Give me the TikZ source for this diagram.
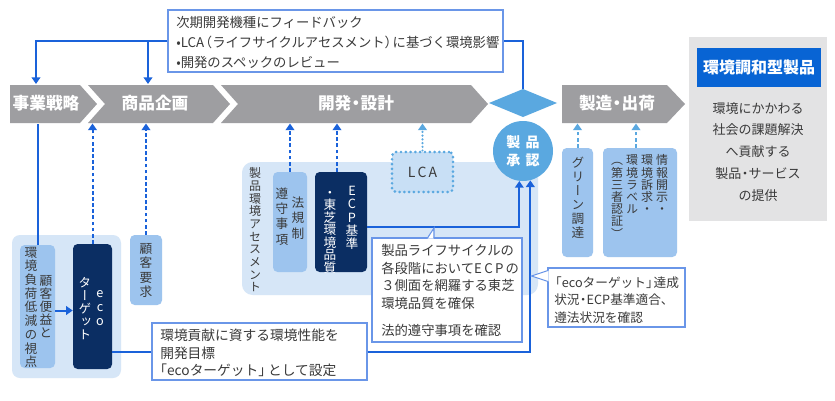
\documentclass[tikz,border=0pt]{standalone}
\usepackage{fontspec}
\setmainfont{Noto Sans CJK JP}
\newfontfamily\tatefont[RawFeature=+vert]{Noto Sans CJK JP}
\usetikzlibrary{arrows.meta,fit}

\definecolor{procgray}{HTML}{9E9EA1}
\definecolor{linkblue}{HTML}{1A62DA}
\definecolor{paleblue}{HTML}{D6E6F7}
\definecolor{midblue}{HTML}{9DC4EE}
\definecolor{navy}{HTML}{0B2E63}
\definecolor{apblue}{HTML}{5AA8E0}
\definecolor{headblue}{HTML}{0864D4}
\definecolor{edgeblue}{HTML}{6A96E8}
\definecolor{txtgray}{HTML}{3A3A3A}
\definecolor{panelgray}{HTML}{E3E3E4}
\definecolor{lcafill}{HTML}{C8DFF5}

% vertical (tate) text: one glyph per cell, cells of a fixed pitch
\newlength\tatepitch
\newcommand\tatecell[1]{\vbox to\tatepitch{\vss\hbox to1.1em{\hss\smash{#1}\hss}\kern\dimexpr.5\tatepitch-.38em\relax}}
\def\tateloop#1{\ifx\relax#1\else\tatecell{#1}\expandafter\tateloop\fi}
\newcommand\tate[2]{\setlength\tatepitch{#1}\vbox{\offinterlineskip\tatefont\tateloop#2\relax}}
\newcommand\emtop{\rule{0pt}{.88em}}
% narrow middle dot
\newcommand\ndot{\kern-.22em・\kern-.22em}

\tikzset{
  conn/.style={draw=linkblue, line width=1.5pt},
  tip/.style={-{Triangle[width=6.5pt,length=5pt]}},
  dashtip/.style={draw=linkblue, line width=1.5pt, dash pattern=on 2.8pt off 1.8pt, -{Triangle[width=6.5pt,length=5pt]}},
  litetip/.style={draw=apblue, line width=1.5pt, dash pattern=on 2.8pt off 1.8pt, -{Triangle[width=6.5pt,length=5pt]}},
  dottip/.style={draw=apblue, line width=1.8pt, dash pattern=on 0pt off 2.8pt, line cap=round, -{Triangle[width=6.5pt,length=5pt]}},
  proc/.style={fill=procgray},
  proclabel/.style={text=white, font=\fontsize{12.5}{14}\selectfont\bfseries, inner sep=0, text height=.88em, text depth=.12em},
  fitbox/.style={inner sep=0pt},
  notebox/.style={fitbox, draw=edgeblue, line width=0.8pt, fill=white},
  panel/.style={fitbox, fill=paleblue, rounded corners=6pt},
  softbox/.style={fitbox, fill=midblue, rounded corners=3.5pt},
  darkbox/.style={fitbox, fill=navy, rounded corners=3.5pt},
  vlabel/.style={inner sep=0, anchor=north, text=txtgray, font=\fontsize{9.5}{10}\selectfont},
  vwhite/.style={vlabel, text=white},
  notetext/.style={inner sep=0, anchor=north west, align=left, text=txtgray},
  tail/.style={draw=edgeblue, line width=0.8pt},
}

\begin{document}
\begin{tikzpicture}[x=0.75pt,y=-0.75pt]
\useasboundingbox (0,0) rectangle (835,400);
\fill[white] (0,0) rectangle (835,400);

% process chevrons
\fill[proc] (10,85) -- (80,85) -- (97,104) -- (80,123) -- (10,123) -- cycle;
\fill[proc] (88,85) -- (213,85) -- (230,104) -- (213,123) -- (88,123) -- (105,104) -- cycle;
\fill[proc] (221,85) -- (471,85) -- (488,104) -- (471,123) -- (221,123) -- (238,104) -- cycle;
\fill[proc] (562,85) -- (667,85) -- (685,104) -- (667,123) -- (562,123) -- cycle;
\node[proclabel] (p1) at (46,104) {事業戦略};
\node[proclabel] (p2) at (155,104) {商品企画};
\node[proclabel] (p3) at (356,104) {開発\ndot 設計};
\node[proclabel] (p4) at (617,104) {製造\ndot 出荷};
\coordinate (bartop) at (0,85);
\coordinate (barbot) at (0,123.5);

% feedback note
\node[notebox, fit={(168,10) (503,72)}] (fb) {};
\node[notetext, font=\fontsize{10}{15}\selectfont] (fbt) at (176,15.3)
  {\emtop 次期開発機種にフィードバック\\•LCA\kern-.4em（ライフサイクルアセスメント）\kern-.4em に基づく環境影響\\•開発のスペックのレビュー};

% result panel
\node[fitbox, fill=panelgray, fit={(689,37) (827,221)}] (goal) {};
\node[fitbox, fill=headblue, fit={(697,48) (821,87)}] (goalhead) {};
\node[text=white, font=\fontsize{12}{14}\selectfont\bfseries, inner sep=0] (goalt) at (goalhead.center) {環境調和型製品};
\node[inner sep=0, anchor=north, align=center, text=txtgray, font=\fontsize{9.75}{16.3}\selectfont] (goald) at (758,101.5)
  {\emtop 環境にかかわる\\社会の課題解決\\へ貢献する\\製品\ndot サービス\\の提供};

% planning group
\node[panel, fit={(12,235) (121,378)}] (leftpanel) {};
\node[softbox, fit={(20,245) (55,368)}] (view) {};
\node[darkbox, fit={(73,244) (112,369)}] (eco) {};
\node[softbox, fit={(130,235) (162,305)}] (need) {};
\node[vlabel] (viewa) at (31,245.1) {\tate{10.3pt}{環境負荷低減の視点}};
\node[vlabel] (viewb) at (46,273.4) {\tate{9.9pt}{顧客便益と}};
\node[vwhite] (ecoa) at (100,285) {\tate{10.5pt}{eco}};
\node[vwhite] (ecob) at (85,275.5) {\tate{9.75pt}{ターゲット}};
\node[vlabel] (needt) at (146,240.75) {\tate{10.9pt}{顧客要求}};

% assessment group
\node[panel, rounded corners=8pt, fit={(242,162) (538,295)}] (assess) {};
\node[vlabel, font=\fontsize{9}{10}\selectfont] (assesst) at (255,166.6) {\tate{9.5pt}{製品環境アセスメント}};
\node[softbox, fit={(273,172) (307,272)}] (law) {};
\node[darkbox, fit={(315,172) (367,272)}] (ecp) {};
\node[vlabel] (lawa) at (298,194.25) {\tate{11.6pt}{法規制}};
\node[vlabel] (lawb) at (282,185.3) {\tate{11.5pt}{遵守事項}};
\node[vwhite] (ecpa) at (352,183.25) {\tate{10.1pt}{ECP基準}};
\node[vwhite] (ecpb) at (330,185.75) {\tate{9.4pt}{・東芝環境品質}};
\node[fitbox, fill=lcafill, draw=apblue, line width=2.2pt, dash pattern=on 0pt off 3.6pt, line cap=round, rounded corners=3pt, fit={(392,152) (453,192)}] (lca) {};
\node[inner sep=0, text=txtgray, font=\fontsize{10.5}{12}\selectfont] (lcat) at (lca.center) {L\kern1.5pt C\kern1.5pt A};

% approval gate
\fill[apblue] (489,103) -- (523,89) -- (557,103) -- (523,117) -- cycle;
\coordinate (diatop) at (523,89);
\node[circle, fill=apblue, minimum size=45pt, inner sep=0, text=white, align=center, font=\fontsize{10.5}{13.5}\selectfont\bfseries] (appr) at (523,151) {製\hspace{4pt}品\\承\hspace{4pt}認};

% production group
\node[softbox, fit={(562,148) (593,257)}] (green) {};
\node[softbox, fit={(603,148) (677,257)}] (info) {};
\node[vlabel] (greent) at (578,155) {\tate{10.5pt}{グリーン調達}};
\node[vlabel, font=\fontsize{9}{10}\selectfont] (infoa) at (662,153.9) {\tate{9.15pt}{情報開示・}};
\node[vlabel, font=\fontsize{9}{10}\selectfont] (infob) at (647,153.9) {\tate{9.15pt}{環境訴求・}};
\node[vlabel, font=\fontsize{9}{10}\selectfont] (infoc) at (632,153.9) {\tate{9.15pt}{環境ラベル}};
\node[vlabel, font=\fontsize{9}{10}\selectfont] (infod) at (617,153.9) {\tate{9.15pt}{（第三者認証）}};

% target note
\node[notebox, fit={(152,323) (367,380)}] (goalnote) {};
\node[notetext, font=\fontsize{10.3}{13.1}\selectfont] (goalnotet) at (160,328.2)
  {\emtop 環境貢献に資する環境性能を\\開発目標\\\kern-.5em「ecoターゲット」\kern-.3em として設定};

% connectors
\draw[conn] (diatop) |- (fb.east);
\coordinate (s1top) at (36,84);
\coordinate (s2top) at (148,84);
\draw[conn,tip] (fb.west) -| (s1top);
\draw[conn,tip] (fb.west -| s2top) -- (s2top);
\draw[conn] (view.north) -- (view.north |- barbot);
\draw[conn,tip] ([yshift=-3pt]view.east) -- ([yshift=-3pt]eco.west);
\draw[dashtip] (eco.north) -- (eco.north |- barbot);
\draw[dashtip] (need.north) -- (need.north |- barbot);
\draw[dashtip] (law.north) -- (law.north |- barbot);
\draw[dashtip] ([xshift=-3pt]ecp.north) -- ([xshift=-3pt]ecp.north |- barbot);
\draw[dottip] (lca.north) -- (lca.north |- barbot);
\draw[litetip] (green.north) -- (green.north |- barbot);
\draw[litetip] ([xshift=-3pt]info.north) -- ([xshift=-3pt]info.north |- barbot);
\draw[conn] (goalnote.west) -- (goalnote.west -| eco.east);
\draw[conn,tip] (goalnote.east) -| (appr.-76);
\draw[conn,tip] ([yshift=-3.75pt]ecp.east) -| (appr.-97);

% life-cycle callout
\node[notebox, fit={(372,238) (522,342)}] (lifenote) {};
\fill[white] (427.6,238.6) -- (433.6,228.6) -- (433.6,238.6) -- cycle;
\draw[tail] (427.5,238) -- (434,228) -- (434,238);
\node[notetext, font=\fontsize{10}{13.3}\selectfont] (lifet) at (381,243.3)
  {\emtop 製品ライフサイクルの\\各段階においてE\,C\,P\,の\\３側面を網羅する東芝\\環境品質を確保\\[7pt]法的遵守事項を確認};

% approval check callout
\node[notebox, fit={(548,268) (685,327)}] (checknote) {};
\fill[white] (548.6,270.6) -- (532,276) -- (548.6,281.4) -- cycle;
\draw[tail] (548,270.5) -- (531.5,276) -- (548,281.5);
\node[notetext, font=\fontsize{9.5}{13.1}\selectfont] (checkt) at (554,275.7)
  {\emtop\kern-.4em「ecoターゲット」\kern-.4em 達成\\状況\ndot ECP基準適合、\\遵法状況を確認};
\end{tikzpicture}
\end{document}
